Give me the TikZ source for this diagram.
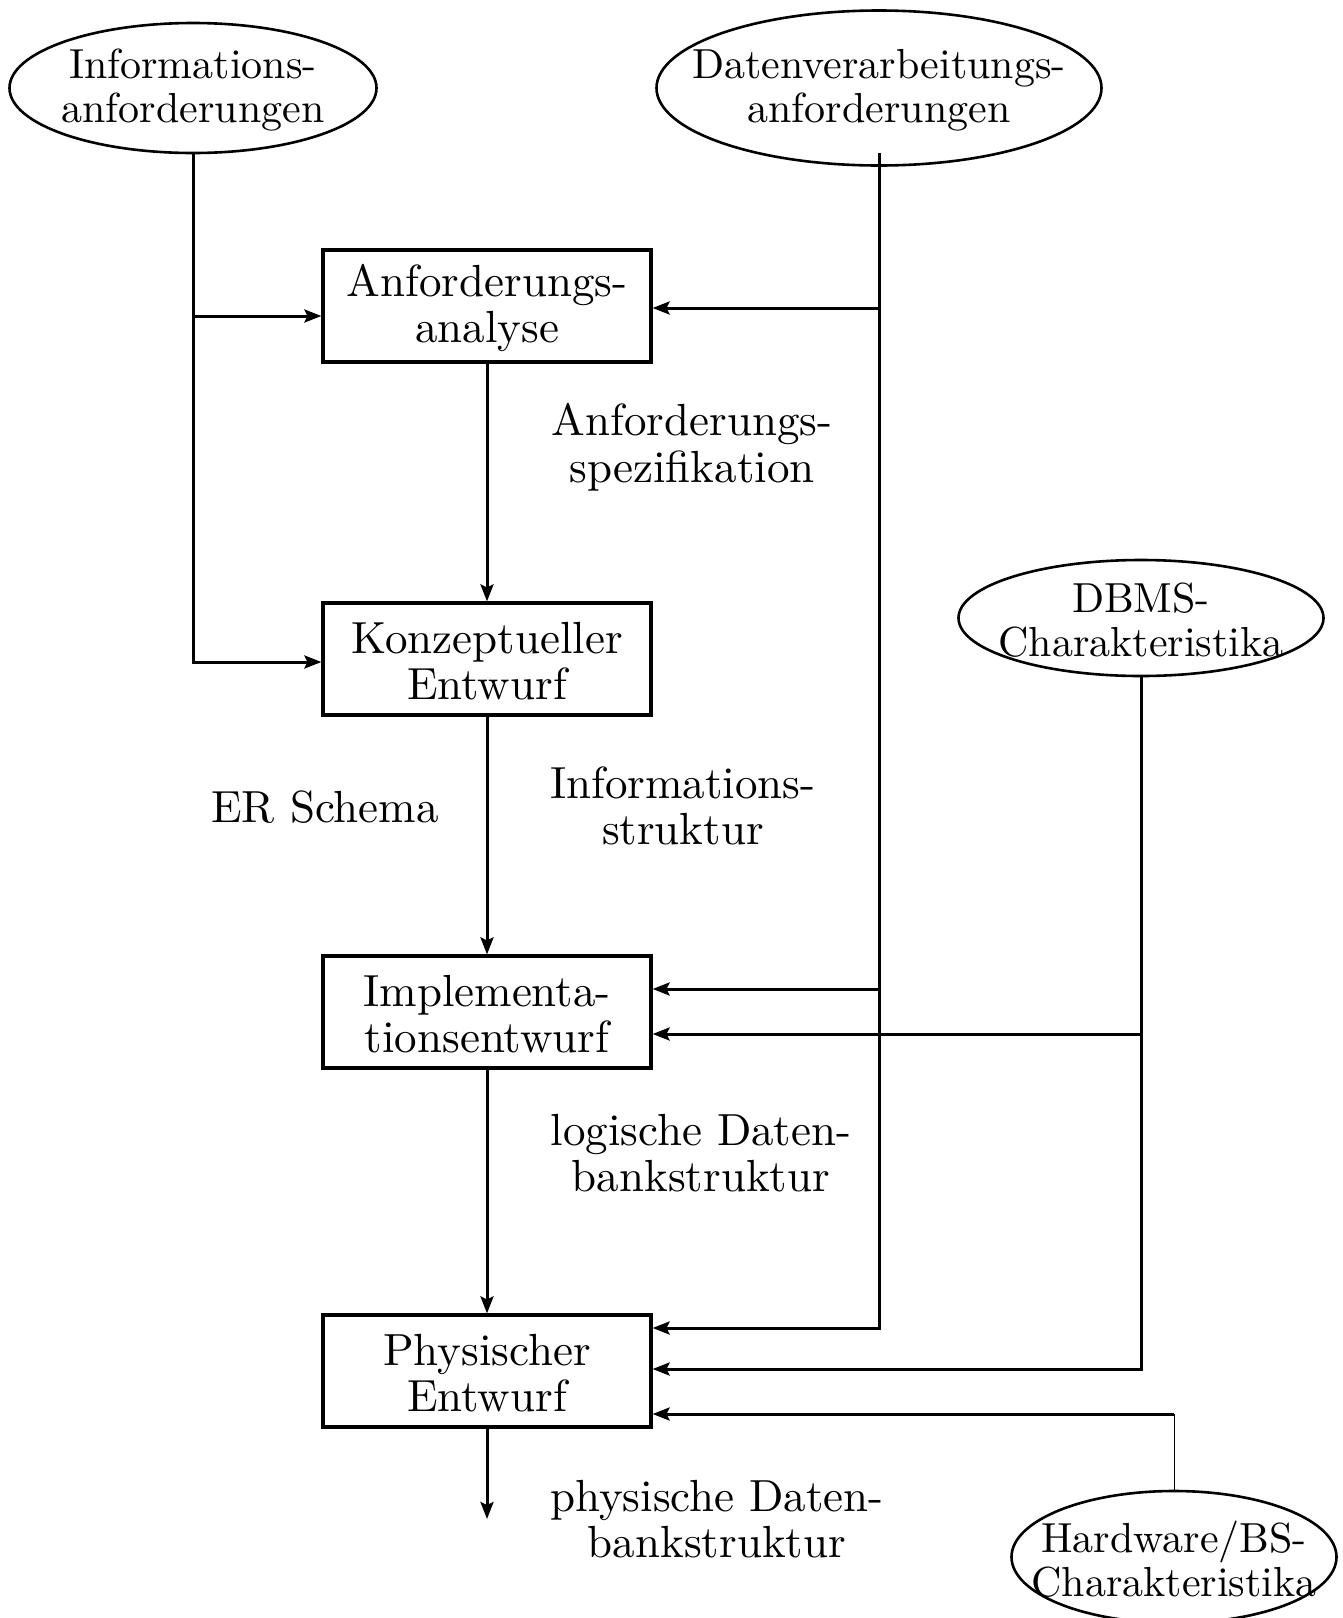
\documentclass[tikz,border=0pt]{standalone}
\usepackage{fontspec}
% the 10pt design size of Latin Modern, scaled up
\setmainfont{lmroman10-regular.otf}
\usetikzlibrary{arrows.meta,shapes.geometric}

\newcommand\stagefont{\fontsize{22.5}{23.3}\selectfont}
\newcommand\sourcefont{\fontsize{21}{22.2}\selectfont}

\begin{document}
\begin{tikzpicture}[x=0.5pt,y=-0.5pt,
  stage/.style={draw, line width=1.6pt, minimum width=164pt, minimum height=56pt,
                inner sep=0pt, align=center, font=\stagefont},
  source/.style={draw, ellipse, line width=1.3pt, inner sep=0pt},
  srctext/.style={align=center, font=\sourcefont, inner sep=0pt},
  note/.style={align=center, font=\stagefont, inner sep=0pt},
  flow/.style={line width=1.5pt, -{Stealth[length=8.5pt,width=6.5pt,inset=1.5pt]}},
  thinfeed/.style={line width=0.5pt},
]
\useasboundingbox (0,0) rectangle (1343,1618);
\clip (0,0) rectangle (1343,1618);

% external inputs
\node[source, minimum width=183.5pt, minimum height=65pt] (info) at (193,88) {};
\node[srctext] (info-t) at (193,90) {Informations-\\anforderungen};
\node[source, minimum width=222.5pt, minimum height=77.5pt] (data) at (879,88) {};
\node[srctext] (data-t) at (879,90) {Datenverarbeitungs-\\anforderungen};
\node[source, minimum width=182.5pt, minimum height=58pt] (dbms) at (1141,618) {};
\node[srctext] (dbms-t) at (1141,620) {DBMS-\\Charakteristika};
\node[source, minimum width=162.5pt, minimum height=66pt] (hw) at (1174,1557) {};
\node[srctext] (hw-t) at (1174,1559) {Hardware/BS-\\Charakteristika};

% design phases (frames, then their text)
\node[stage] (ana)  at (487,306)  {};
\node[stage] (konz) at (487,659)  {};
\node[stage] (impl) at (487,1012) {};
\node[stage] (phys) at (487,1371) {};
\node[note] (ana-t)  at (487,308)  {Anforderungs-\\analyse};
\node[note] (konz-t) at (487,661)  {Konzeptueller\\Entwurf};
\node[note] (impl-t) at (487,1014) {Implementa-\\tionsentwurf};
\node[note] (phys-t) at (487,1373) {Physischer\\Entwurf};

% intermediate results
\node[note] (spec)   at (692,447)  {Anforderungs-\\spezifikation};
\node[note] (er)     at (325,807)  {ER Schema};
\node[note] (istr)   at (683,806)  {Informations-\\struktur};
\node[note] (logdb)  at (701,1153) {logische Daten-\\bankstruktur};
\node[note] (physdb) at (717,1519) {physische Daten-\\bankstruktur};

% junction points of the feed lines
\coordinate (iA) at (193,316);
\coordinate (iK) at (193,662);
\coordinate (dtop) at (879,153);
\coordinate (dA) at (879,308);
\coordinate (dI) at (879,989);
\coordinate (dP) at (879,1328);
\coordinate (bI) at (1141,1034);
\coordinate (bP) at (1141,1369);
\coordinate (hP) at (1174,1414);
\coordinate (out) at (487,1519);

% main flow
\draw[flow] (ana) -- (konz);
\draw[flow] (konz) -- (impl);
\draw[flow] (impl) -- (phys);
\draw[flow] (phys) -- (out);

% information requirements
\draw[flow] (info.south) -- (iK) -- (iK -| konz.west);
\draw[flow] (iA) -- (iA -| ana.west);

% data processing requirements
\draw[flow] (dtop) -- (dP) -- (dP -| phys.east);
\draw[flow] (dA) -- (dA -| ana.east);
\draw[flow] (dI) -- (dI -| impl.east);

% DBMS characteristics
\draw[flow] (dbms.south) -- (bP) -- (bP -| phys.east);
\draw[flow] (bI) -- (bI -| impl.east);

% hardware / OS characteristics
\draw[thinfeed] (hw.north) -- (hP);
\draw[flow] (hP) -- (hP -| phys.east);
\end{tikzpicture}
\end{document}
